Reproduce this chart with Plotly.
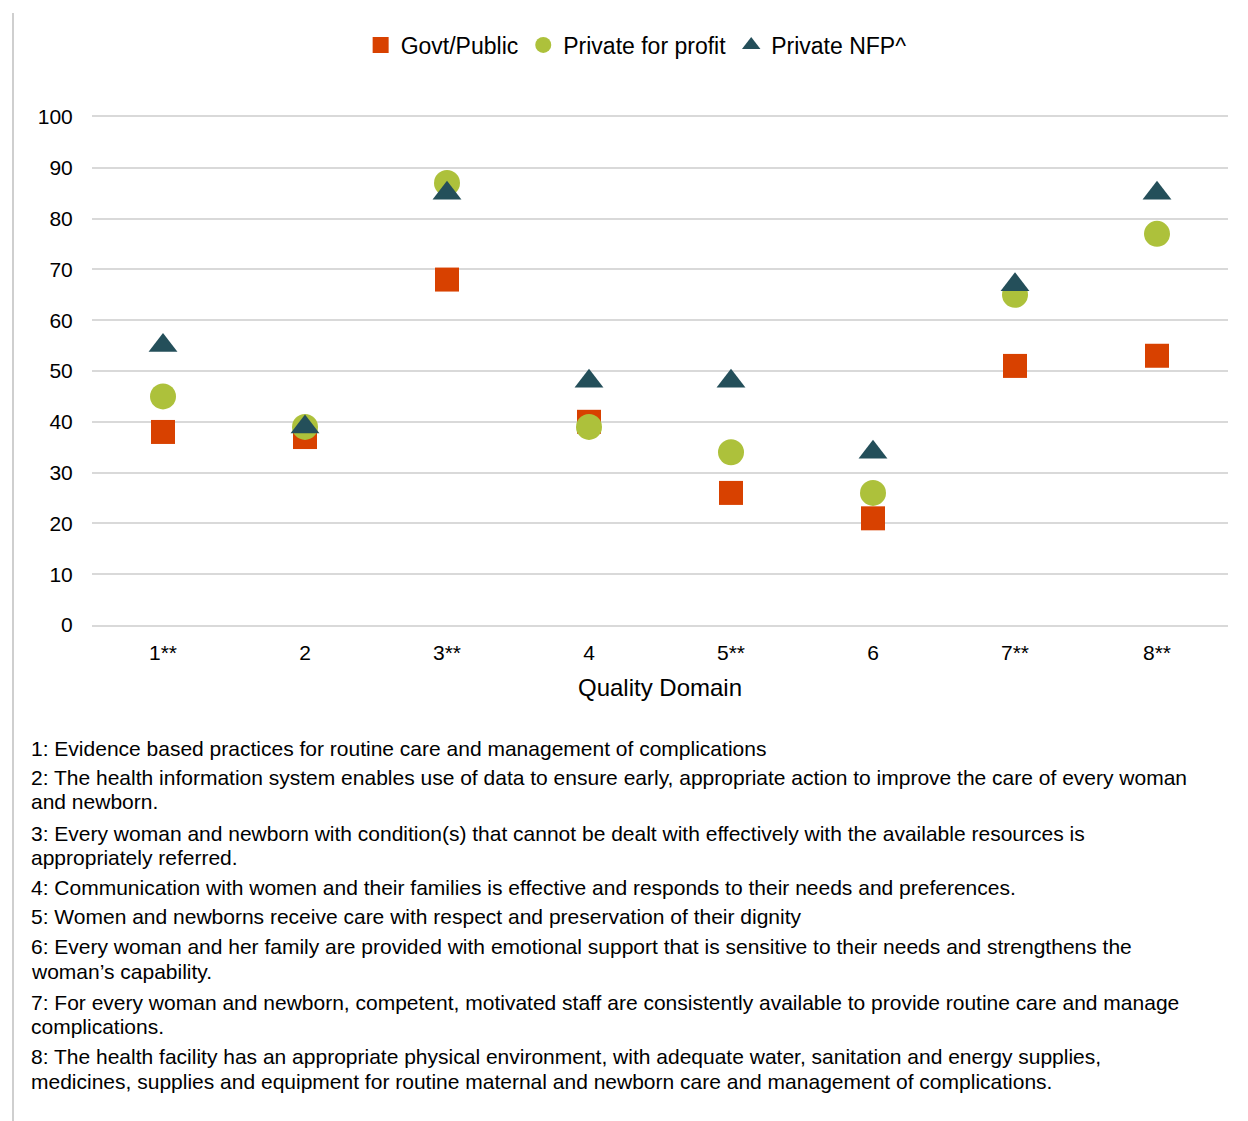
import plotly.graph_objects as go

# Quality domains (x categories) and share of facilities meeting standards, %
domains = ["1**", "2", "3**", "4", "5**", "6", "7**", "8**"]
govt_public = [38, 37, 68, 40, 26, 21, 51, 53]
private_profit = [45, 39, 87, 39, 34, 26, 65, 77]
private_nfp = [55, 39, 85, 48, 48, 34, 67, 85]

y_ticks = [0, 10, 20, 30, 40, 50, 60, 70, 80, 90, 100]

# Footnote text, one entry per rendered line: (line text, pixel y of line centre)
footnote_lines = [
    ("1: Evidence based practices for routine care and management of complications", 748),
    ("2: The health information system enables use of data to ensure early, appropriate action to improve the care of every woman", 777),
    ("and newborn.", 801),
    ("3: Every woman and newborn with condition(s) that cannot be dealt with effectively with the available resources is", 833),
    ("appropriately referred.", 857),
    ("4: Communication with women and their families is effective and responds to their needs and preferences.", 887),
    ("5: Women and newborns receive care with respect and preservation of their dignity", 917),
    ("6: Every woman and her family are provided with emotional support that is sensitive to their needs and strengthens the", 946),
    ("woman\u2019s capability.", 971),
    ("7: For every woman and newborn, competent, motivated staff are consistently available to provide routine care and manage", 1002),
    ("complications.", 1026),
    ("8: The health facility has an appropriate physical environment, with adequate water, sanitation and energy supplies,", 1056),
    ("medicines, supplies and equipment for routine maternal and newborn care and management of complications.", 1081),
]

W, H = 1248, 1121
ML, MR, MT, MB = 92, 20, 117, 496
PW, PH = W - ML - MR, H - MT - MB

FONT = "Liberation Sans, Arial, sans-serif"
GRID = "#d9d9d9"

fig = go.Figure()
fig.add_trace(go.Scatter(
    x=domains, y=govt_public, mode="markers", name="Govt/Public",
    marker=dict(symbol="square", size=24, color="#d84100"),
))
fig.add_trace(go.Scatter(
    x=domains, y=private_profit, mode="markers", name="Private for profit",
    marker=dict(symbol="circle", size=26, color="#adc13b"),
))
fig.add_trace(go.Scatter(
    x=domains, y=private_nfp, mode="markers", name="Private NFP^",
    marker=dict(symbol="triangle-up", size=25, color="#244f5a"),
))


def px_to_paper_x(px):
    return (px - ML) / PW


def px_to_paper_y(py):
    return (H - MB - py) / PH


annotations = []
for text, py in footnote_lines:
    annotations.append(dict(
        text=text, xref="paper", yref="paper",
        x=px_to_paper_x(29), y=px_to_paper_y(py),
        xanchor="left", yanchor="middle", showarrow=False,
        font=dict(family=FONT, size=21, color="#000000"),
    ))

fig.update_layout(
    width=W, height=H,
    margin=dict(l=ML, r=MR, t=MT, b=MB),
    paper_bgcolor="white", plot_bgcolor="white",
    font=dict(family=FONT, size=22, color="#000000"),
    showlegend=True,
    legend=dict(
        orientation="h", x=0.479, xanchor="center",
        y=px_to_paper_y(45), yanchor="middle",
        font=dict(family=FONT, size=23, color="#000000"),
        itemwidth=30, traceorder="normal",
    ),
    xaxis=dict(
        type="category", categoryorder="array", categoryarray=domains,
        range=[-0.5, 7.5], showgrid=False, zeroline=False,
        # bottom/top frame lines double as the 0 and 100 gridlines
        showline=True, mirror=True, linecolor=GRID, linewidth=2,
        ticks="outside", ticklen=8, tickcolor="rgba(0,0,0,0)",
        tickfont=dict(family=FONT, size=21, color="#000000"),
        title=dict(text="Quality Domain", standoff=16,
                   font=dict(family=FONT, size=24, color="#000000")),
    ),
    yaxis=dict(
        range=[0, 100], tickvals=y_ticks, showgrid=True,
        gridcolor=GRID, gridwidth=2, zeroline=False, showline=False,
        ticks="outside", ticklen=14, tickcolor="rgba(0,0,0,0)",
        tickfont=dict(family=FONT, size=21, color="#000000"),
    ),
    annotations=annotations,
    shapes=[dict(
        type="line", xref="paper", yref="paper",
        x0=px_to_paper_x(13), x1=px_to_paper_x(13),
        y0=px_to_paper_y(13), y1=px_to_paper_y(H),
        line=dict(color="#bfbfbf", width=1.5),
    )],
)

fig.write_html("out.html")
